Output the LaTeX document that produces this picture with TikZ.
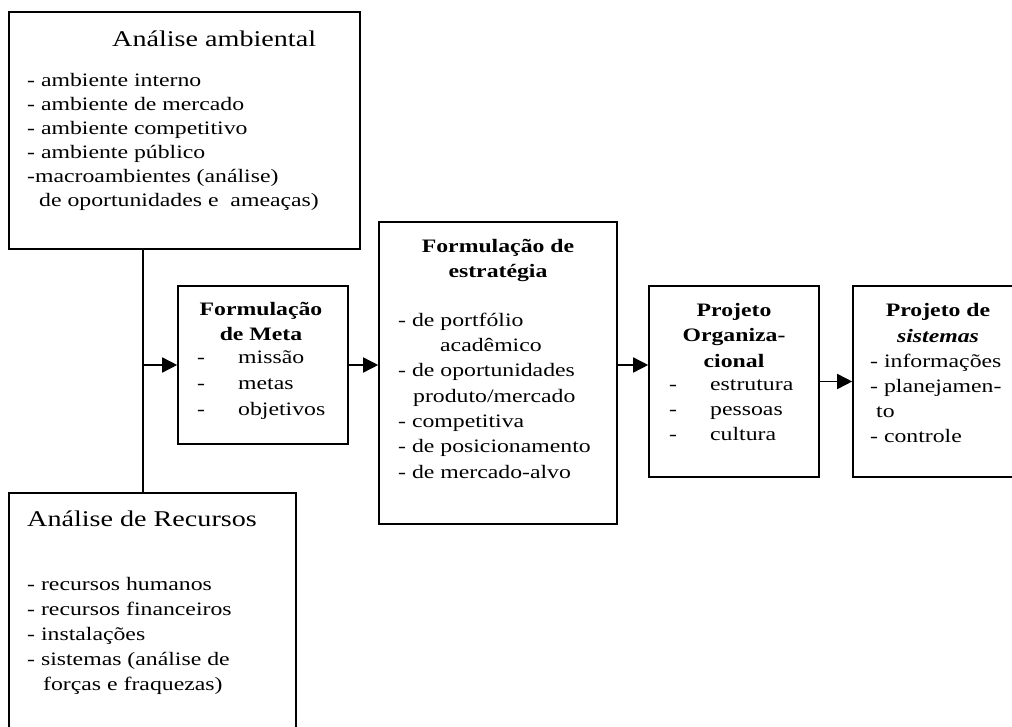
\documentclass[tikz,border=0pt]{standalone}
\usepackage{fontspec}
\setmainfont{Liberation Serif}[FakeStretch=1.25]
\usetikzlibrary{arrows.meta,positioning,calc}
\newcommand\bodysize[1]{\fontsize{19}{#1}\selectfont}
\newcommand\dashitem[1]{\makebox[41pt][l]{-}#1}

\begin{document}
\begin{tikzpicture}[
    x=1pt, y=-1pt,
    box/.style={
        draw,
        line width=1.6pt,
        inner sep=0pt
    },
    heading/.style={
        inner sep=0pt,
        anchor=base west,
        font=\fontsize{22.5}{27}\selectfont
    },
    titlebold/.style={
        inner sep=0pt,
        anchor=north,
        align=center,
        font=\bfseries\bodysize{#1}
    },
    items/.style={
        inner sep=0pt,
        anchor=north west,
        align=left,
        font=\bodysize{#1}
    },
    connector/.style={
        line width=1.6pt,
        -{Triangle[length=15pt,width=15pt]}
    }
]
\useasboundingbox (0,0) rectangle (1012,727);
\clip (0,0) rectangle (1012,727);

% Boxes
\node (amb) [box, minimum width=351pt, minimum height=237pt] at (184.5,130.5) {};
\node (rec) [box, minimum width=287pt, minimum height=267pt] at (152.5,626.5) {};
\node (meta) [box, minimum width=170pt, minimum height=158pt] at (263,365) {};
\node (estr) [box, minimum width=238pt, minimum height=302pt] at (498,373) {};
\node (org) [box, minimum width=170pt, minimum height=191pt] at (734,381.5) {};
\node (sis) [box, minimum width=197pt, minimum height=191pt] at (951.5,381.5) {};

% Texts
\node (ambtitle) [heading] at (112,47) {Análise ambiental};
\node (ambtext) [items=24] at (27,69.2) {\strut- ambiente interno\\- ambiente de mercado\\- ambiente competitivo\\- ambiente público\\-macroambientes (análise)\\\hspace*{12pt}de oportunidades e\ \ ameaças)};

\node (rectitle) [heading] at (27,526) {Análise de Recursos};
\node (rectext) [items=25] at (27,572.5) {\strut- recursos humanos\\- recursos financeiros\\- instalações\\- sistemas (análise de\\\hspace*{16pt}forças e fraquezas)};

\node (metatitle) [titlebold=25] at (261,297.5) {\strut Formulação\\de Meta};
\node (metatext) [items=26] at (197,344.8) {\strut\dashitem{missão}\\\dashitem{metas}\\\dashitem{objetivos}};

\node (estrtitle) [titlebold=25] at (498,234.5) {\strut Formulação de\\estratégia};
\node (estrtext) [items=25.3] at (398,308.3) {\strut- de portfólio\\\hspace*{42pt}acadêmico\\- de oportunidades\\\hspace*{15pt}produto/mercado\\- competitiva\\- de posicionamento\\- de mercado-alvo};

\node (orgtitle) [titlebold=25.5] at (734,298) {\strut Projeto\\Organiza-\\cional};
\node (orgtext) [items=25] at (669,372.5) {\strut\dashitem{estrutura}\\\dashitem{pessoas}\\\dashitem{cultura}};

\node (sistitle) [titlebold=26] at (938,298) {\strut Projeto de\\\textit{sistemas}};
\node (sistext) [items=25] at (870,349.5) {\strut- informações\\- planejamen-\\\hspace*{6pt}to\\- controle};

% Edges
\coordinate (jn) at (143,365);
\draw[line width=1.6pt] (jn |- amb.south) -- (jn |- rec.north);
\draw[connector] (jn) -- (meta.west);
\draw[connector] (meta.east) -- (meta.east -| estr.west);
\draw[connector] (estr.east |- meta.east) -- (meta.east -| org.west);
\draw[connector] (org.east) -- (sis.west);

\end{tikzpicture}
\end{document}
